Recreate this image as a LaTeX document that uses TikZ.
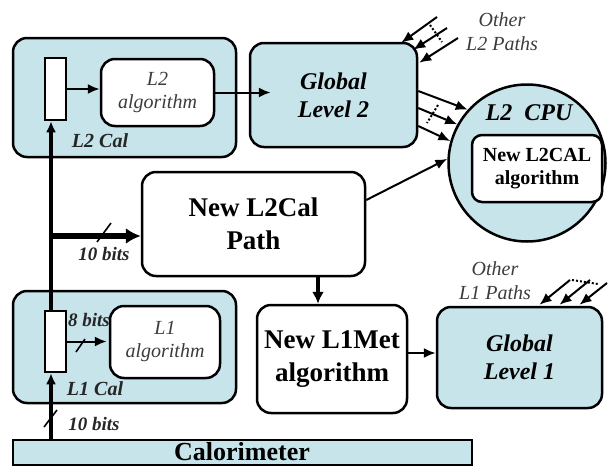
\documentclass[tikz,border=0pt]{standalone}
\usepackage{fontspec}
\setmainfont{Liberation Serif}
\usetikzlibrary{arrows.meta,calc}
\definecolor{calblue}{RGB}{199,228,235}
\definecolor{labgray}{RGB}{60,60,60}

\begin{document}
\begin{tikzpicture}[x=1pt,y=-1pt,
    blk/.style={draw,line width=2.5pt,rounded corners=14pt,inner sep=0pt,align=center},
    blueblk/.style={blk,fill=calblue},
    whiteblk/.style={blk,fill=white},
    reg/.style={draw,line width=2.5pt,fill=white,minimum width=21pt,minimum height=62pt,inner sep=0pt},
    bigtxt/.style={font=\fontsize{27}{33}\selectfont\bfseries},
    glbtxt/.style={font=\fontsize{24}{28}\selectfont\bfseries\itshape},
    algtxt/.style={font=\fontsize{20}{23}\selectfont\itshape,text=labgray},
    lbl/.style={font=\fontsize{19}{22}\selectfont\bfseries\itshape,text=black!85},
    othtxt/.style={font=\fontsize{20}{24}\selectfont\itshape,text=labgray,align=center},
    thin/.style={line width=2pt,-{Latex[length=12pt,width=10pt]}},
    bus/.style={line width=3.2pt,-{Latex[length=12pt,width=12pt]}},
    fat/.style={line width=6pt,-{Latex[length=15pt,width=16pt]}},
    slash/.style={line width=1.6pt},
    dotsl/.style={line width=2pt,dotted}]
    \useasboundingbox (0,0) rectangle (608,466);
    % L2 side ===============================================
    \node[blueblk,minimum width=223pt,minimum height=119pt] (L2cal) at (124.5,97.5) {};
    \node[reg] (reg2) at (55.5,89) {};
    \node[whiteblk,algtxt,minimum width=113pt,minimum height=67pt] (alg2) at (157.5,92.5) {L2\\algorithm};
    \node[lbl,font=\fontsize{20}{22}\selectfont\bfseries\itshape] (L2lab) at (100,141) {L2 Cal};
    \node[blueblk,glbtxt,minimum width=167pt,minimum height=104pt] (GL2) at (333.5,95) {Global\\Level 2};
    \node[circle,draw,line width=2.5pt,fill=calblue,minimum size=157pt,inner sep=0pt] (cpu) at (527,163) {};
    \node[glbtxt] (cpulab) at (529,113) {L2\ \ CPU};
    \node[whiteblk,font=\fontsize{20}{23}\selectfont\bfseries,minimum width=130pt,minimum height=67pt,rounded corners=10pt] (cpualg) at (537,168.5) {New L2CAL\\algorithm};
    \node[othtxt] (oth2) at (502,32) {Other\\L2 Paths};
    % new path ==============================================
    \node[whiteblk,bigtxt,minimum width=223pt,minimum height=104pt] (path) at (253.5,224) {New L2Cal\\Path};
    \node[whiteblk,bigtxt,minimum width=150pt,minimum height=108pt] (l1met) at (332,359) {New L1Met\\algorithm};
    \node[blueblk,glbtxt,minimum width=165pt,minimum height=101pt] (GL1) at (519.5,357.5) {Global\\Level 1};
    \node[othtxt] (oth1) at (495,281) {Other\\L1 Paths};
    % L1 side ===============================================
    \node[blueblk,minimum width=223pt,minimum height=112pt] (L1cal) at (124.5,347) {};
    \node[reg,minimum height=61pt] (reg1) at (55.5,341.5) {};
    \node[whiteblk,algtxt,minimum width=110pt,minimum height=72pt] (alg1) at (165,342) {L1\\algorithm};
    \node[lbl,font=\fontsize{20}{22}\selectfont\bfseries\itshape] (L1lab) at (95,389) {L1 Cal};
    \node[lbl] (bits8) at (89,320) {8 bits};
    \node[lbl] (bits10a) at (94,424) {10 bits};
    \node[lbl] (bits10b) at (104,254) {10 bits};
    \node[draw,line width=2.5pt,fill=calblue,minimum width=459pt,minimum height=25pt,inner sep=0pt] (calo) at (242.5,452.5) {};
    \node[bigtxt,font=\fontsize{26}{30}\selectfont\bfseries,anchor=base] (calolab) at (242,460) {Calorimeter};
    % data flow =============================================
    \coordinate (tap) at (51,440);
    \coordinate (pin) at ($(path.west)+(0,12)$);
    \coordinate (drop) at (318,300);
    \draw[line width=3.2pt,-{Latex[length=11pt,width=10pt]}] (tap) -- (tap |- reg1.south);
    \draw[line width=3.2pt,-{Latex[length=11pt,width=10pt]}] (tap |- reg1.north) -- (tap |- reg2.south);
    \draw[fat] (tap |- pin) -- (pin);
    \draw[thin] (reg2.east) -- (reg2.east -| alg2.west);
    \draw[thin] (reg1.east) -- ($(reg1.east -| alg1.west)+(-2,0)$);
    \draw[thin] (alg2.east) -- ($(alg2.east -| GL2.west)+(22,0)$);
    \draw[bus] (path.south -| drop) -- (l1met.north -| drop);
    \draw[thin] ($(l1met.east)+(0,-6)$) -- ($(l1met.east -| GL1.west)+(0,-6)$);
    \draw[thin] (path.12) -- (cpu.177);
    % L2 links into the CPU
    \draw[thin] ($(GL2.east)+(0,-4)$) -- (cpu.138);
    \draw[thin] ($(GL2.east)+(0,13)$) -- (cpu.151);
    \draw[thin] ($(GL2.east)+(0,31)$) -- (cpu.164);
    \draw[dotsl] (438,105) -- (427,123);
    % other L2 paths
    \draw[thin] (437,17) -- ($(GL2.north east)+(-17,1)$);
    \draw[thin] (447,28) -- ($(GL2.north east)+(-5,8)$);
    \draw[thin] (458,38) -- ($(GL2.north east)+(1,21)$);
    \draw[dotsl] (430,25) -- (442,42);
    % other L1 paths
    \draw[thin] (570,280) -- ($(GL1.north)+(20,-1)$);
    \draw[thin] (590,280) -- ($(GL1.north)+(40,-1)$);
    \draw[thin] (607,283) -- ($(GL1.north)+(60,-1)$);
    \draw[dotsl] (572,280) -- (598,284);
    % bit widths
    \draw[slash] (44,427) -- (57,410);
    \draw[slash] (97,242) -- (111,223);
    \draw[slash] (76,352) -- (85,339);
\end{tikzpicture}
\end{document}
